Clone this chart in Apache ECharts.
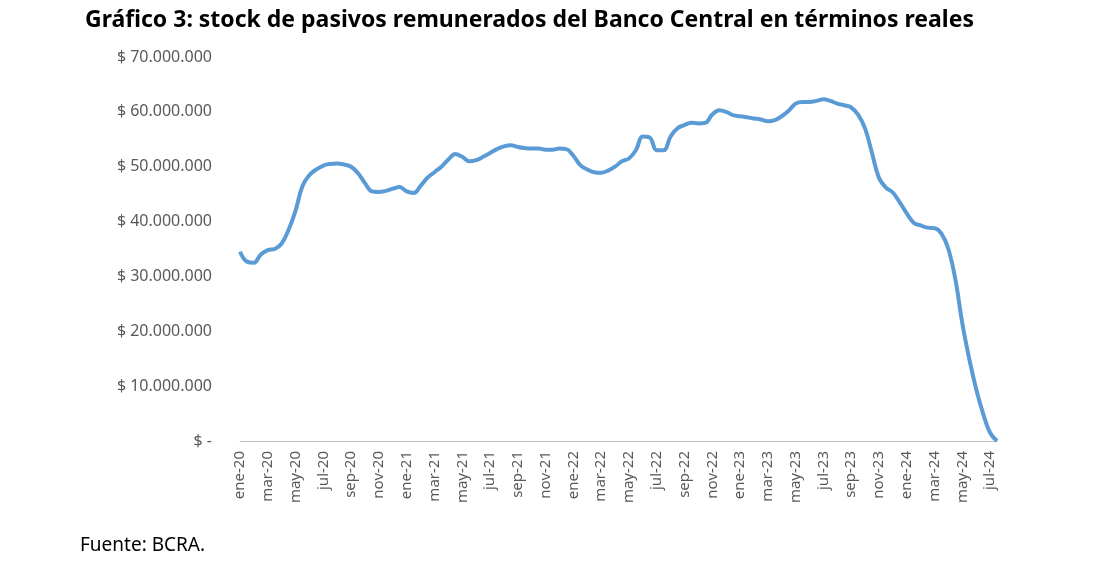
<!DOCTYPE html><html><head><meta charset="utf-8"><script src="https://cdn.jsdelivr.net/npm/echarts@6/dist/echarts.min.js"></script></head><body style="margin:0"><div id="c" style="width:1099px;height:570px"></div><script>
const mesesLbl=["ene","feb","mar","abr","may","jun","jul","ago","sep","oct","nov","dic"];
const values=[34.5,32.7,32.5,34,34.8,35,36,38.5,42,46.5,48.5,49.5,50.2,50.5,50.6,50.4,50,48.8,47,45.5,45.4,45.6,46,46.3,45.5,45.2,46.5,48,49,50,51.3,52.3,51.8,51,51.2,51.8,52.5,53.2,53.7,53.9,53.6,53.4,53.3,53.3,53.1,53.1,53.3,53.2,52,50.3,49.5,49,48.9,49.3,50,51,51.5,53,55.5,55.3,53,53,55.5,57,57.6,58,57.9,58,59.5,60.3,60,59.4,59.2,59,58.8,58.6,58.3,58.5,59.2,60.2,61.5,61.8,61.8,62,62.3,62,61.5,61.2,60.8,59.5,57,52.5,48,46.2,45.3,43.5,41.5,39.8,39.3,38.9,38.8,37.8,35,29.5,21.5,15,9.5,5,1.5,0];
const categories=values.map((v,i)=>{const m=Math.floor(i/2);return i%2===0?mesesLbl[m%12]+"-"+(20+Math.floor(m/12)):"";});
const c=echarts.init(document.getElementById('c'));
const fmt=v=>v===0?"$ -":"$ "+(v*1e6).toLocaleString('de-DE');
c.setOption({
title:{text:"Gráfico 3: stock de pasivos remunerados del Banco Central en términos reales",left:80,top:4,textStyle:{fontFamily:"Noto Sans",fontWeight:"bold",fontSize:23,color:"#000"}},
graphic:[{type:"text",left:80,top:536,style:{text:"Fuente: BCRA.",font:"19px Noto Sans",fill:"#000"}}],
grid:{left:240,right:102,top:57,bottom:129},
xAxis:{type:"category",data:categories,boundaryGap:false,axisLine:{lineStyle:{color:"#bfbfbf"}},axisTick:{show:false},
axisLabel:{interval:3,rotate:90,color:"#595959",fontFamily:"Noto Sans",fontSize:15,margin:10}},
yAxis:{type:"value",min:0,max:70,interval:10,splitLine:{show:false},axisLine:{show:false},axisTick:{show:false},
axisLabel:{formatter:fmt,color:"#595959",fontFamily:"Noto Sans",fontSize:16,margin:28}},
series:[{type:"line",data:values,smooth:0.4,showSymbol:false,lineStyle:{color:"#5b9bd5",width:4}}]
});
</script></body></html>
